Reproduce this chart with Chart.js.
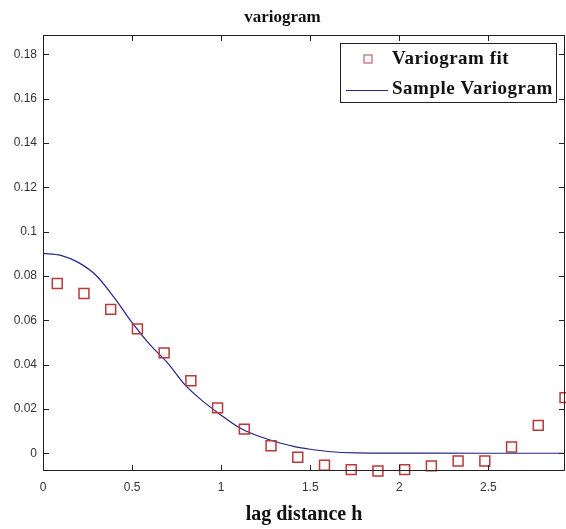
<!DOCTYPE html>
<html>
<head>
<meta charset="utf-8">
<script src="https://cdn.jsdelivr.net/npm/chart.js@4.4.1/dist/chart.umd.min.js"></script>
<style>
  html, body { margin: 0; padding: 0; background: #fff; }
  #wrap { width: 566px; height: 529px; }
</style>
</head>
<body>
<div id="wrap"><canvas id="vario"></canvas></div>
<script>
// binned lags and the values shown as squares
const fitLag = [0.08, 0.23, 0.38, 0.53, 0.68, 0.83, 0.98, 1.13, 1.28, 1.43,
                1.58, 1.73, 1.88, 2.03, 2.18, 2.33, 2.48, 2.63, 2.78, 2.93];
const fitVal = [0.0766, 0.0721, 0.0649, 0.0561, 0.0453, 0.0327, 0.0205, 0.0109, 0.0034, -0.0018,
                -0.0054, -0.0074, -0.0080, -0.0074, -0.0057, -0.0035, -0.0035, 0.0028, 0.0126, 0.0251];

// the solid curve
const curveLag = [0, 0.1, 0.2, 0.3, 0.4, 0.5, 0.6, 0.7, 0.8, 0.9, 1.0,
                  1.1, 1.2, 1.3, 1.4, 1.5, 1.6, 1.76, 2.0, 2.5, 2.93];
const curveVal = [0.0902, 0.0893, 0.0860, 0.0801, 0.0702, 0.0589, 0.0490, 0.0407, 0.0306, 0.0233, 0.0172,
                  0.0116, 0.0080, 0.0054, 0.0032, 0.0018, 0.0008, 0.0002, 0.0001, 0.0000, 0.0000];

const xRange = [0, 2.93];
const yRange = [-0.008, 0.1887];

const squareColor = '#b8383c';
const lineColor = '#24248c';
const serif = '"Liberation Serif", "Times New Roman", serif';
const sans = '"Liberation Sans", Arial, sans-serif';

function fmt(v) {
    return String(Number(v.toFixed(2)));
}

// box around the axes with inward tick marks, matlab style
const axesBox = {
    id: 'axesBox',
    afterDatasetsDraw(chart) {
        const { ctx, chartArea: a, scales } = chart;
        const len = 6;
        ctx.save();
        ctx.strokeStyle = '#222';
        ctx.lineWidth = 1;
        ctx.strokeRect(a.left + 0.5, a.top + 0.5, a.right - a.left - 1, a.bottom - a.top - 1);
        ctx.beginPath();
        scales.x.ticks.forEach(t => {
            const px = Math.round(scales.x.getPixelForValue(t.value)) + 0.5;
            ctx.moveTo(px, a.bottom);
            ctx.lineTo(px, a.bottom - len);
            ctx.moveTo(px, a.top);
            ctx.lineTo(px, a.top + len);
        });
        scales.y.ticks.forEach(t => {
            const py = Math.round(scales.y.getPixelForValue(t.value)) + 0.5;
            ctx.moveTo(a.left, py);
            ctx.lineTo(a.left + len, py);
            ctx.moveTo(a.right, py);
            ctx.lineTo(a.right - len, py);
        });
        ctx.stroke();
        ctx.restore();
    }
};

// legend box in the upper right corner of the axes
const boxLegend = {
    id: 'boxLegend',
    afterDraw(chart) {
        const { ctx, chartArea: a } = chart;
        const w = 217, h = 60;
        const x0 = a.right - 8 - w, y0 = a.top + 8;
        ctx.save();
        ctx.fillStyle = '#fff';
        ctx.fillRect(x0, y0, w, h);
        ctx.strokeStyle = '#222';
        ctx.lineWidth = 1;
        ctx.strokeRect(x0 + 0.5, y0 + 0.5, w - 1, h - 1);

        const fit = chart.data.datasets[0];
        const curve = chart.data.datasets[1];
        const row1 = y0 + 16, row2 = y0 + 47;

        ctx.strokeStyle = '#d06070';
        ctx.lineWidth = 1.2;
        ctx.strokeRect(x0 + 24, row1 - 4, 8, 8);

        ctx.strokeStyle = curve.borderColor;
        ctx.lineWidth = 1;
        ctx.beginPath();
        ctx.moveTo(x0 + 6, row2 + 0.5);
        ctx.lineTo(x0 + 48, row2 + 0.5);
        ctx.stroke();

        ctx.fillStyle = '#111';
        ctx.font = 'bold 19px ' + serif;
        ctx.letterSpacing = '0.5px';
        ctx.textBaseline = 'middle';
        ctx.fillText(fit.label, x0 + 52, row1);
        ctx.fillText(curve.label, x0 + 52, row2 - 1);
        ctx.restore();
    }
};

let ctx = document.getElementById('vario').getContext('2d');
let varioChart = new Chart(ctx, {
    type: 'scatter',
    data: {
        datasets: [
            {
                label: 'Variogram fit',
                data: fitLag.map((x, i) => ({ x: x, y: fitVal[i] })),
                pointStyle: 'rect',
                pointRadius: 7,
                pointBorderWidth: 1.5,
                borderColor: squareColor,
                backgroundColor: 'rgba(0,0,0,0)',
                clip: false
            },
            {
                label: 'Sample Variogram',
                data: curveLag.map((x, i) => ({ x: x, y: curveVal[i] })),
                showLine: true,
                pointRadius: 0,
                borderColor: lineColor,
                borderWidth: 1.2,
                cubicInterpolationMode: 'monotone'
            }
        ]
    },
    options: {
        responsive: true,
        maintainAspectRatio: false,
        animation: false,
        layout: { autoPadding: false, padding: { top: 0, right: 1, bottom: 0, left: 0 } },
        plugins: {
            legend: { display: false },
            tooltip: { enabled: false },
            title: {
                display: true,
                text: 'variogram',
                color: '#111',
                font: { family: serif, size: 17, weight: 'bold' },
                padding: { top: 7, bottom: 7.6 }
            }
        },
        scales: {
            x: {
                type: 'linear',
                min: xRange[0],
                max: xRange[1],
                grid: { display: false, drawTicks: false },
                border: { display: false },
                ticks: {
                    stepSize: 0.5,
                    includeBounds: false,
                    padding: 9,
                    color: '#333',
                    font: { family: sans, size: 12 },
                    maxRotation: 0,
                    callback: v => fmt(v)
                },
                title: {
                    display: true,
                    text: 'lag distance h',
                    color: '#111',
                    font: { family: serif, size: 20, weight: 'bold' },
                    padding: { top: 2, bottom: 2 }
                },
                afterFit: scale => { scale.height = 58; }
            },
            y: {
                min: yRange[0],
                max: yRange[1],
                grid: { display: false, drawTicks: false },
                border: { display: false },
                ticks: {
                    stepSize: 0.02,
                    includeBounds: false,
                    padding: 6,
                    color: '#333',
                    font: { family: sans, size: 12 },
                    callback: v => fmt(v)
                },
                afterFit: scale => { scale.width = 43; }
            }
        }
    },
    plugins: [axesBox, boxLegend]
});
</script>
</body>
</html>
